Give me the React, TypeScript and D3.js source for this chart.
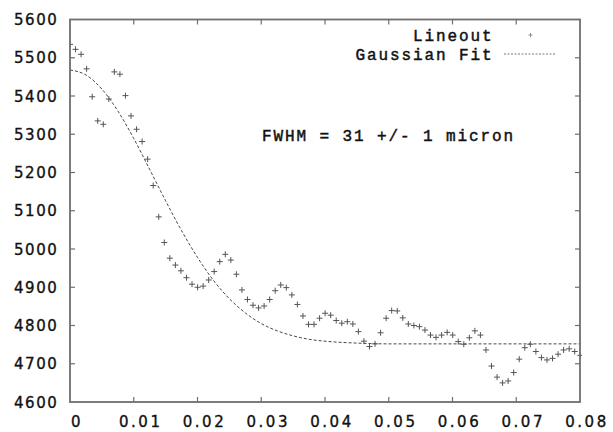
import * as d3 from 'd3';
import React, { useRef, useEffect } from 'react';

// lineout samples, one per detector pixel (x step in data units)
const step = 0.00087;
const lineout = [
  5535, 5522, 5509, 5471, 5398, 5335, 5326, 5392, 5463, 5457,
  5401, 5348, 5313, 5281, 5235, 5166, 5084, 5017, 4976, 4958,
  4943, 4925, 4908, 4900, 4903, 4919, 4941, 4967, 4986, 4971,
  4934, 4893, 4868, 4853, 4846, 4851, 4868, 4891, 4906, 4899,
  4880, 4855, 4825, 4803, 4803, 4819, 4832, 4827, 4813, 4806,
  4810, 4804, 4784, 4759, 4745, 4752, 4781, 4819, 4839, 4838,
  4820, 4804, 4800, 4797, 4788, 4775, 4769, 4775, 4782, 4775,
  4758, 4751, 4768, 4786, 4775, 4736, 4694, 4665, 4650, 4655,
  4677, 4712, 4742, 4751, 4732, 4716, 4710, 4714, 4725, 4736,
  4739, 4732, 4722,
];

// gaussian fit curve
const fitX = [0, 0.0025, 0.005, 0.0075, 0.01, 0.0125, 0.015, 0.0175, 0.02, 0.0225,
  0.025, 0.0275, 0.03, 0.0325, 0.035, 0.0375, 0.04, 0.045, 0.05, 0.06, 0.07, 0.08];
const fitY = [5468, 5455, 5418, 5361, 5289, 5208, 5126, 5048, 4978, 4918,
  4870, 4833, 4805, 4786, 4773, 4764, 4759, 4754, 4752, 4752, 4752, 4752];

const xTicks = [0, 0.01, 0.02, 0.03, 0.04, 0.05, 0.06, 0.07, 0.08];
const yTicks = [4600, 4700, 4800, 4900, 5000, 5100, 5200, 5300, 5400, 5500, 5600];

const W = 613, H = 432;
const m = { left: 70, right: 580, top: 19.5, bottom: 402 };

export default function App() {
  const ref = useRef(null);

  useEffect(() => {
    document.body.style.margin = '0';
    const svg = d3.select(ref.current);
    svg.selectAll('*').remove();

    const x = d3.scaleLinear().domain([0, 0.08]).range([m.left, m.right]);
    const y = d3.scaleLinear().domain([4600, 5600]).range([m.bottom, m.top]);

    const frame = '#6e6e6e';
    const tickFont = 'DejaVu Sans, sans-serif';
    const monoFont = 'Liberation Mono, Courier New, monospace';

    svg.append('defs').append('clipPath').attr('id', 'plot')
      .append('rect')
      .attr('x', m.left).attr('y', m.top)
      .attr('width', m.right - m.left + 2).attr('height', m.bottom - m.top);

    // ticks (inward, mirrored)
    const t = svg.append('g').attr('stroke', frame).attr('stroke-width', 1.2);
    xTicks.slice(1, -1).forEach(v => {
      t.append('line').attr('x1', x(v)).attr('x2', x(v)).attr('y1', m.bottom).attr('y2', m.bottom - 5);
      t.append('line').attr('x1', x(v)).attr('x2', x(v)).attr('y1', m.top).attr('y2', m.top + 5);
    });
    yTicks.slice(1, -1).forEach(v => {
      t.append('line').attr('x1', m.left).attr('x2', m.left + 5).attr('y1', y(v)).attr('y2', y(v));
      t.append('line').attr('x1', m.right).attr('x2', m.right - 5).attr('y1', y(v)).attr('y2', y(v));
    });

    // tick labels
    svg.append('g').selectAll('text').data(yTicks).join('text')
      .attr('x', 58.5).attr('y', d => y(d) + 5.5)
      .attr('text-anchor', 'end')
      .attr('font-family', tickFont).attr('font-size', 15).attr('letter-spacing', 1.6)
      .attr('fill', '#111').attr('stroke', '#111').attr('stroke-width', 0.35)
      .text(d => d);
    svg.append('g').selectAll('text').data(xTicks).join('text')
      .attr('x', d => x(d) + 7).attr('y', 427)
      .attr('text-anchor', 'middle')
      .attr('font-family', tickFont).attr('font-size', 15).attr('letter-spacing', 2.5)
      .attr('fill', '#111').attr('stroke', '#111').attr('stroke-width', 0.35)
      .text(d => (d === 0 ? '0' : d3.format('.2f')(d)));

    // gaussian fit
    const fit = d3.line<number>()
      .x((_, i) => x(fitX[i]))
      .y(d => y(d))
      .curve(d3.curveMonotoneX);
    svg.append('path').datum(fitY)
      .attr('d', fit)
      .attr('fill', 'none').attr('stroke', '#333').attr('stroke-width', 0.9)
      .attr('stroke-dasharray', '3,2');

    // lineout points
    const pts = svg.append('g').attr('clip-path', 'url(#plot)')
      .attr('stroke', '#555').attr('stroke-width', 1);
    lineout.forEach((v, i) => {
      const px = x(i * step), py = y(v);
      pts.append('line').attr('x1', px - 3).attr('x2', px + 3).attr('y1', py).attr('y2', py);
      pts.append('line').attr('x1', px).attr('x2', px).attr('y1', py - 3).attr('y2', py + 3);
    });

    // frame
    svg.append('rect')
      .attr('x', m.left).attr('y', m.top)
      .attr('width', m.right - m.left).attr('height', m.bottom - m.top)
      .attr('fill', 'none').attr('stroke', frame).attr('stroke-width', 1.8);

    // legend
    const lg = svg.append('g').attr('font-family', monoFont).attr('font-size', 16)
      .attr('letter-spacing', 1.9).attr('fill', '#111').attr('text-anchor', 'end')
      .attr('stroke', '#111').attr('stroke-width', 0.45);
    lg.append('text').attr('x', 493.5).attr('y', 41).text('Lineout');
    lg.append('text').attr('x', 493.5).attr('y', 59.5).text('Gaussian Fit');
    svg.append('g').attr('stroke', '#777').attr('stroke-width', 0.8)
      .call(g => {
        g.append('line').attr('x1', 528.5).attr('x2', 532.5).attr('y1', 35).attr('y2', 35);
        g.append('line').attr('x1', 530.5).attr('x2', 530.5).attr('y1', 33).attr('y2', 37);
      });
    svg.append('line').attr('x1', 504).attr('x2', 556).attr('y1', 54).attr('y2', 54)
      .attr('stroke', '#555').attr('stroke-width', 0.8).attr('stroke-dasharray', '2,1.5');

    // annotation
    svg.append('text').attr('x', 262).attr('y', 140.5)
      .attr('font-family', monoFont).attr('font-size', 16).attr('letter-spacing', 1.9)
      .attr('fill', '#111').attr('stroke', '#111').attr('stroke-width', 0.45)
      .text('FWHM = 31 +/- 1 micron');
  }, []);

  return <svg ref={ref} width={W} height={H} style={{ display: 'block', background: '#fff' }} />;
}
